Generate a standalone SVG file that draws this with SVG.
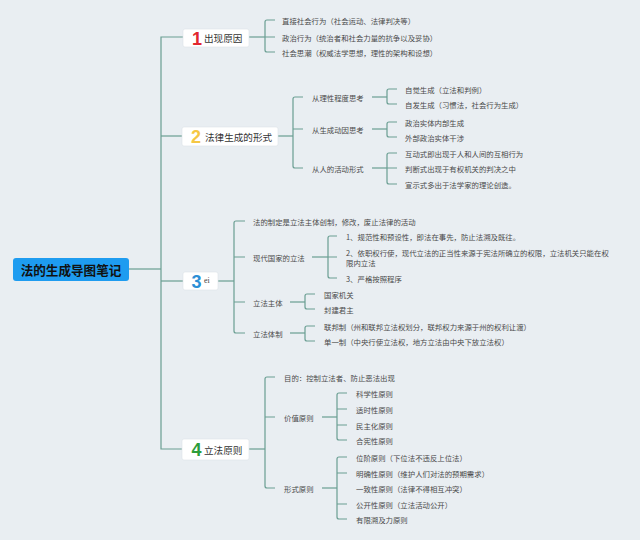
<svg xmlns="http://www.w3.org/2000/svg" width="640" height="540" viewBox="0 0 640 540">
<style>
text{font-family:"Noto Sans CJK SC","Noto Sans",sans-serif;dominant-baseline:central}
.leaf{font-size:7.4px;fill:#4a4a4a}
.lbl{font-size:9.6px;fill:#333}
.root{font-size:12.6px;font-weight:bold;fill:#111}
.num{font-family:"Liberation Sans",Arial,sans-serif;font-weight:bold;font-size:18px;text-anchor:middle}
.box{fill:#ffffff;stroke:#dde3e8;stroke-width:0.6}
.c path,.c line{fill:none;stroke:#6a9e92;stroke-width:1.2}
</style>
<rect width="640" height="540" fill="#e9eef2"/>
<g class="c" id="connectors">
<line x1="129" y1="269" x2="161" y2="269"/>
<path d="M183 37 H161 V449 H182"/>
<line x1="161" y1="136" x2="182" y2="136"/>
<line x1="161" y1="281" x2="183" y2="281"/>
<!-- branch 1 -->
<line x1="249" y1="37" x2="265" y2="37"/>
<path d="M275 20 H267 Q265 20 265 22 V50 Q265 52 267 52 H275 M265 37 H275"/>
<!-- branch 2 -->
<line x1="278" y1="136" x2="293" y2="136"/>
<path d="M303 97 H295 Q293 97 293 99 V166 Q293 168 295 168 H303 M293 129 H303"/>
<line x1="372" y1="97" x2="387" y2="97"/>
<path d="M397 89 H389 Q387 89 387 91 V102 Q387 104 389 104 H397"/>
<line x1="372" y1="129" x2="387" y2="129"/>
<path d="M397 122 H389 Q387 122 387 124 V135 Q387 137 389 137 H397"/>
<line x1="372" y1="168" x2="387" y2="168"/>
<path d="M397 153 H389 Q387 153 387 155 V182 Q387 184 389 184 H397 M387 168 H397"/>
<!-- branch 3 -->
<line x1="218" y1="281" x2="234" y2="281"/>
<path d="M245 221 H236 Q234 221 234 223 V331 Q234 333 236 333 H245 M234 257 H245 M234 302 H245"/>
<line x1="312" y1="257" x2="328" y2="257"/>
<path d="M337 236 H330 Q328 236 328 238 V276 Q328 278 330 278 H337 M328 257 H337"/>
<line x1="290" y1="302" x2="305" y2="302"/>
<path d="M315 294 H307 Q305 294 305 296 V307 Q305 309 307 309 H315"/>
<line x1="290" y1="333" x2="305" y2="333"/>
<path d="M315 326 H307 Q305 326 305 328 V339 Q305 341 307 341 H315"/>
<!-- branch 4 -->
<line x1="249" y1="449" x2="265" y2="449"/>
<path d="M275 377 H267 Q265 377 265 379 V486 Q265 488 267 488 H275 M265 417 H275"/>
<line x1="322" y1="417" x2="337" y2="417"/>
<path d="M347 393 H339 Q337 393 337 395 V438 Q337 440 339 440 H347 M337 409 H347 M337 425 H347"/>
<line x1="322" y1="488" x2="337" y2="488"/>
<path d="M347 457 H339 Q337 457 337 459 V517 Q337 519 339 519 H347 M337 473 H347 M337 504 H347"/>
</g>
<g id="root">
<rect x="13" y="258" width="116" height="23" rx="3" fill="#1e9cf0"/>
<text class="root" x="71" y="269.5" text-anchor="middle">法的生成导图笔记</text>
</g>
<g id="b1">
<rect class="box" x="183" y="29" width="66" height="18" rx="2"/>
<text class="num" x="197" y="38.5" fill="#e2262f">1</text>
<text class="lbl" x="204" y="38">出现原因</text>
</g>
<g id="b1-1"><text class="leaf" x="282" y="20">直接社会行为（社会运动、法律判决等）</text></g>
<g id="b1-2"><text class="leaf" x="282" y="37">政治行为（统治者和社会力量的抗争以及妥协）</text></g>
<g id="b1-3"><text class="leaf" x="282" y="52">社会思潮（权威法学思想，理性的架构和设想）</text></g>
<g id="b2">
<rect class="box" x="182" y="127" width="96" height="19" rx="2"/>
<text class="num" x="196" y="137" fill="#f5c744">2</text>
<text class="lbl" x="205" y="136.5">法律生成的形式</text>
</g>
<g id="b2-1"><text class="leaf" x="312" y="97">从理性程度思考</text></g>
<g id="b2-1-1"><text class="leaf" x="405" y="89">自觉生成（立法和判例）</text></g>
<g id="b2-1-2"><text class="leaf" x="405" y="104">自发生成（习惯法，社会行为生成）</text></g>
<g id="b2-2"><text class="leaf" x="312" y="129">从生成动因思考</text></g>
<g id="b2-2-1"><text class="leaf" x="405" y="122">政治实体内部生成</text></g>
<g id="b2-2-2"><text class="leaf" x="405" y="137">外部政治实体干涉</text></g>
<g id="b2-3"><text class="leaf" x="312" y="168">从人的活动形式</text></g>
<g id="b2-3-1"><text class="leaf" x="405" y="153">互动式即出现于人和人间的互相行为</text></g>
<g id="b2-3-2"><text class="leaf" x="405" y="168">判断式出现于有权机关的判决之中</text></g>
<g id="b2-3-3"><text class="leaf" x="405" y="184">宣示式多出于法学家的理论创造。</text></g>
<g id="b3">
<rect class="box" x="183" y="272" width="35" height="18" rx="2"/>
<text class="num" x="196.5" y="281.5" fill="#2b8fd6">3</text>
<text x="204" y="280.5" style="font-family:'Liberation Serif',serif;font-size:8px;fill:#444">ei</text>
</g>
<g id="b3-1"><text class="leaf" x="253" y="221">法的制定是立法主体创制，修改，废止法律的活动</text></g>
<g id="b3-2"><text class="leaf" x="253" y="257">现代国家的立法</text></g>
<g id="b3-2-1"><text class="leaf" x="346" y="236">1、规范性和预设性，即法在事先，防止法溯及既往。</text></g>
<g id="b3-2-2"><text class="leaf" x="346" y="252">2、依职权行使，现代立法的正当性来源于宪法所确立的权限，立法机关只能在权</text><text class="leaf" x="346" y="262.5">限内立法</text></g>
<g id="b3-2-3"><text class="leaf" x="346" y="278">3、严格按照程序</text></g>
<g id="b3-3"><text class="leaf" x="253" y="302">立法主体</text></g>
<g id="b3-3-1"><text class="leaf" x="324" y="294">国家机关</text></g>
<g id="b3-3-2"><text class="leaf" x="324" y="309">封建君主</text></g>
<g id="b3-4"><text class="leaf" x="253" y="333">立法体制</text></g>
<g id="b3-4-1"><text class="leaf" x="324" y="326">联邦制（州和联邦立法权划分，联邦权力来源于州的权利让渡）</text></g>
<g id="b3-4-2"><text class="leaf" x="324" y="341">单一制（中央行使立法权，地方立法由中央下放立法权）</text></g>
<g id="b4">
<rect class="box" x="182" y="439" width="67" height="21" rx="2"/>
<text class="num" x="196.5" y="450" fill="#2e9d3a">4</text>
<text class="lbl" x="204" y="449.5">立法原则</text>
</g>
<g id="b4-1"><text class="leaf" x="284" y="377">目的：控制立法者、防止恶法出现</text></g>
<g id="b4-2"><text class="leaf" x="284" y="417">价值原则</text></g>
<g id="b4-2-1"><text class="leaf" x="356" y="393">科学性原则</text></g>
<g id="b4-2-2"><text class="leaf" x="356" y="409">适时性原则</text></g>
<g id="b4-2-3"><text class="leaf" x="356" y="425">民主化原则</text></g>
<g id="b4-2-4"><text class="leaf" x="356" y="440">合宪性原则</text></g>
<g id="b4-3"><text class="leaf" x="284" y="488">形式原则</text></g>
<g id="b4-3-1"><text class="leaf" x="356" y="457">位阶原则（下位法不违反上位法）</text></g>
<g id="b4-3-2"><text class="leaf" x="356" y="473">明确性原则（维护人们对法的预期需求）</text></g>
<g id="b4-3-3"><text class="leaf" x="356" y="488">一致性原则（法律不得相互冲突）</text></g>
<g id="b4-3-4"><text class="leaf" x="356" y="504">公开性原则（立法活动公开）</text></g>
<g id="b4-3-5"><text class="leaf" x="356" y="519">有限溯及力原则</text></g>
</svg>
